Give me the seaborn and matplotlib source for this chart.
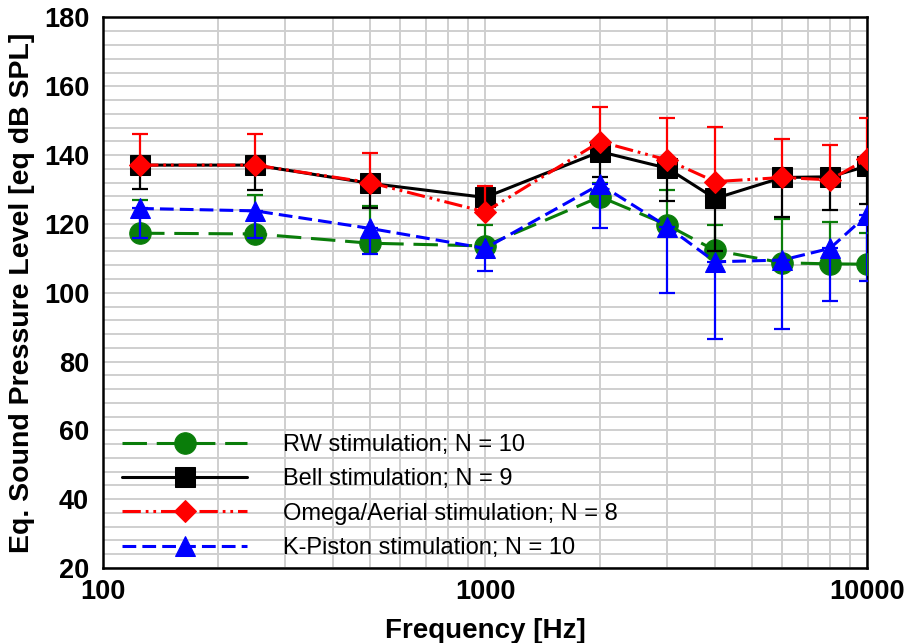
import numpy as np
import pandas as pd
import matplotlib
matplotlib.use("Agg")
import matplotlib.pyplot as plt
import seaborn as sns
from matplotlib.ticker import FixedLocator, NullFormatter, LogLocator

# ---------------- data ----------------
freq = [125, 250, 500, 1000, 2000, 3000, 4000, 6000, 8000, 10000]

rw = [117.3, 117.1, 114.4, 113.6, 127.9, 119.7, 112.3, 108.7, 108.4, 108.3]
rw_err_up = [9.8, 11.3, 10.9, 6.0, 4.0, 10.3, 7.4, 12.6, 12.1, 9.0]

bell = [137.1, 137.1, 131.8, 127.7, 141.0, 136.2, 127.4, 133.5, 133.7, 136.8]
bell_err_dn = [7.0, 7.3, 7.1, 4.0, 7.5, 9.5, 15.3, 11.4, 9.7, 11.1]

omega = [137.1, 137.1, 132.0, 123.5, 143.9, 138.6, 132.3, 133.5, 132.8, 138.9]
omega_err_up = [8.9, 8.9, 8.7, 7.5, 10.0, 12.3, 15.8, 11.1, 10.1, 12.0]

kpiston = [124.5, 123.8, 118.7, 112.9, 131.5, 119.2, 109.0, 109.5, 112.9, 122.6]
kpiston_err_dn = [8.7, 8.0, 7.5, 6.6, 12.8, 19.4, 22.5, 20.1, 15.2, 19.1]

labels = ["RW stimulation; N = 10", "Bell stimulation; N = 9",
          "Omega/Aerial stimulation; N = 8", "K-Piston stimulation; N = 10"]

# ---------------- style ----------------
sns.set_style("white")
plt.rcParams["font.family"] = ["Liberation Sans", "DejaVu Sans"]
plt.rcParams["text.color"] = "black"
plt.rcParams["axes.labelcolor"] = "black"
plt.rcParams["xtick.color"] = "black"
plt.rcParams["ytick.color"] = "black"

fig = plt.figure(figsize=(9.12, 6.43), dpi=100)
ax = fig.add_axes([0.113, 0.1166, 0.8377, 0.8562])

series = [
    (rw, rw_err_up, "up", "#0a7d0a", "o", 15.5, (0, (8, 3.2))),
    (bell, bell_err_dn, "dn", "black", "s", 14, "-"),
    (omega, omega_err_up, "up", "#ff0000", "D", 11.5, (0, (6, 1.6, 0.9, 1.6, 0.9, 1.6))),
    (kpiston, kpiston_err_dn, "dn", "#0000ff", "^", 15, (0, (4.5, 2.0))),
]

z = 3
for (vals, err, direction, color, marker, ms, ls), lab in zip(series, labels):
    zeros = np.zeros(len(vals))
    e = np.array(err)
    yerr = [zeros, e] if direction == "up" else [e, zeros]
    ax.errorbar(freq, vals, yerr=yerr, fmt="none", ecolor=color,
                elinewidth=1.6, capsize=5.5, capthick=1.6, zorder=z)
    df = pd.DataFrame({"f": freq, "v": vals})
    sns.lineplot(data=df, x="f", y="v", ax=ax, color=color, marker=marker,
                 markersize=ms, markeredgecolor=color, linewidth=2.2,
                 linestyle=ls, label=lab, zorder=z + 1)
    z += 2

ax.set_xscale("log")
ax.set_xlim(100, 10000)
ax.set_ylim(20, 180)

ax.set_yticks(np.arange(20, 181, 20))
ax.yaxis.set_minor_locator(FixedLocator(np.arange(20, 181, 4)))
ax.xaxis.set_major_locator(FixedLocator([100, 1000, 10000]))
ax.xaxis.set_minor_locator(LogLocator(base=10, subs=np.arange(2, 10)))
ax.xaxis.set_minor_formatter(NullFormatter())
ax.set_xticklabels(["100", "1000", "10000"])

ax.grid(True, which="both", color="#cfcfcf", linewidth=1.4)
ax.set_axisbelow(True)

ax.tick_params(axis="both", which="major", direction="in", length=7, width=1.8,
               labelsize=19.5)
ax.tick_params(axis="x", which="major", pad=8)
ax.tick_params(axis="y", which="major", pad=10)
ax.tick_params(axis="x", which="minor", direction="in", length=4, width=1.3)
ax.tick_params(axis="y", which="minor", length=0)
for lbl in ax.get_xticklabels() + ax.get_yticklabels():
    lbl.set_fontweight("bold")

for s in ax.spines.values():
    s.set_color("black")
    s.set_linewidth(1.8)

ax.set_xlabel("Frequency [Hz]", fontsize=20, fontweight="bold", labelpad=9)
ax.set_ylabel("Eq. Sound Pressure Level [eq dB SPL]", fontsize=20.5,
              fontweight="bold", labelpad=6)

leg = ax.legend(loc="lower left", bbox_to_anchor=(0.0065, -0.009), frameon=False,
                fontsize=17, handlelength=5.3, handletextpad=1.5,
                labelspacing=0.52, borderaxespad=0.2)

fig.savefig("out.png", dpi=100)
